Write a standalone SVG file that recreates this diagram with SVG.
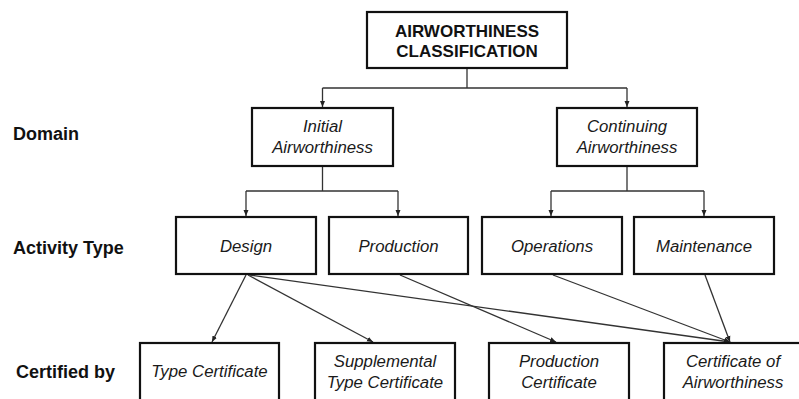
<svg xmlns="http://www.w3.org/2000/svg" width="799" height="399" viewBox="0 0 799 399">
<defs>
<style>
.box{fill:#fff;stroke:#111;stroke-width:2.2}
.lbl{font-family:"Liberation Sans",Arial,sans-serif;font-style:italic;font-size:16.8px;fill:#1a1a1a;text-anchor:middle}
.title{font-family:"Liberation Sans",Arial,sans-serif;font-weight:bold;font-size:17px;fill:#111;text-anchor:middle}
.side{font-family:"Liberation Sans",Arial,sans-serif;font-weight:bold;font-size:18px;fill:#111}
.con{fill:none;stroke:#333;stroke-width:1.3}
</style>
<marker id="ah" markerUnits="userSpaceOnUse" markerWidth="7" markerHeight="6" refX="6" refY="3" orient="auto">
<path d="M0,0.5 L6,3 L0,5.5 z" fill="#222"/>
</marker>
</defs>
<rect width="799" height="399" fill="#fff"/>

<g id="side-labels">
<text class="side" x="13" y="140">Domain</text>
<text class="side" x="13" y="254">Activity Type</text>
<text class="side" x="16" y="378">Certified by</text>
</g>

<g id="connectors">
<path class="con" d="M467,68 V88 M322.5,88 H627"/>
<path class="con" d="M322.5,88 V107" marker-end="url(#ah)"/>
<path class="con" d="M627,88 V107" marker-end="url(#ah)"/>
<path class="con" d="M322.5,166 V191 M246,191 H398"/>
<path class="con" d="M246,191 V216" marker-end="url(#ah)"/>
<path class="con" d="M398,191 V216" marker-end="url(#ah)"/>
<path class="con" d="M627,166 V191 M551,191 H704"/>
<path class="con" d="M551,191 V216" marker-end="url(#ah)"/>
<path class="con" d="M704,191 V216" marker-end="url(#ah)"/>
<path class="con" d="M246,275 L212,342" marker-end="url(#ah)"/>
<path class="con" d="M248,275 L373,342" marker-end="url(#ah)"/>
<path class="con" d="M250,275 L730,342" marker-end="url(#ah)"/>
<path class="con" d="M400,275 L556,342" marker-end="url(#ah)"/>
<path class="con" d="M553,275 L730,342" marker-end="url(#ah)"/>
<path class="con" d="M705,275 L730,342" marker-end="url(#ah)"/>
</g>

<g id="root">
<rect class="box" x="367" y="12" width="200" height="56"/>
<text class="title" x="467" y="37">AIRWORTHINESS</text>
<text class="title" x="467" y="57">CLASSIFICATION</text>
</g>

<g id="initial">
<rect class="box" x="252" y="108" width="141" height="58"/>
<text class="lbl" x="322.5" y="132">Initial</text>
<text class="lbl" x="322.5" y="153">Airworthiness</text>
</g>
<g id="continuing">
<rect class="box" x="557" y="108" width="140" height="58"/>
<text class="lbl" x="627" y="132">Continuing</text>
<text class="lbl" x="627" y="153">Airworthiness</text>
</g>

<g id="design">
<rect class="box" x="176" y="217" width="140" height="57"/>
<text class="lbl" x="246" y="252">Design</text>
</g>
<g id="production">
<rect class="box" x="329" y="217" width="139" height="57"/>
<text class="lbl" x="398.5" y="252">Production</text>
</g>
<g id="operations">
<rect class="box" x="482" y="217" width="140" height="57"/>
<text class="lbl" x="552" y="252">Operations</text>
</g>
<g id="maintenance">
<rect class="box" x="634" y="217" width="140" height="57"/>
<text class="lbl" x="704" y="252">Maintenance</text>
</g>

<g id="type-certificate">
<rect class="box" x="140" y="343" width="139" height="70"/>
<text class="lbl" x="209.5" y="377">Type Certificate</text>
</g>
<g id="supplemental-type-certificate">
<rect class="box" x="315" y="343" width="140" height="70"/>
<text class="lbl" x="385" y="367">Supplemental</text>
<text class="lbl" x="385" y="388">Type Certificate</text>
</g>
<g id="production-certificate">
<rect class="box" x="489" y="343" width="140" height="70"/>
<text class="lbl" x="559" y="367">Production</text>
<text class="lbl" x="559" y="388">Certificate</text>
</g>
<g id="certificate-of-airworthiness">
<rect class="box" x="664" y="343" width="140" height="70"/>
<text class="lbl" x="733" y="367">Certificate of</text>
<text class="lbl" x="733" y="388">Airworthiness</text>
</g>
</svg>
